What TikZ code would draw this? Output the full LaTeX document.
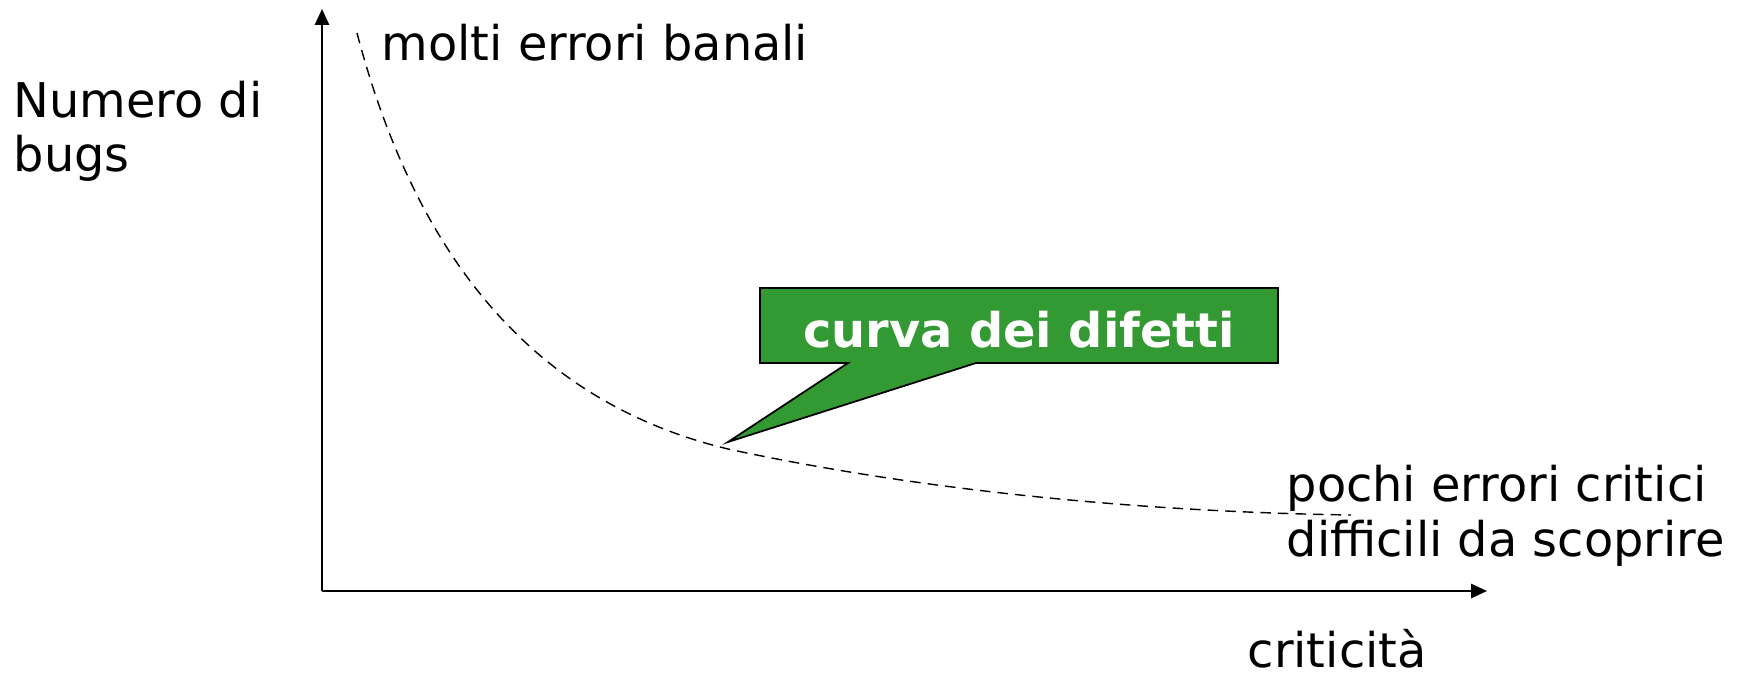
\documentclass[tikz,border=0pt]{standalone}
\usepackage{fontspec}
\setmainfont{DejaVu Sans}
\usetikzlibrary{arrows.meta}
\definecolor{calloutgreen}{HTML}{339933}

\begin{document}
\begin{tikzpicture}[x=0.01cm, y=-0.01cm,
    lbl/.style={inner sep=0pt, anchor=base west, align=left,
        font=\fontsize{13.6}{15.6}\selectfont},
    axis/.style={line width=0.6pt, -{Triangle[length=4.5pt,width=4pt]}},
    curve/.style={line width=0.4pt, dash pattern=on 3pt off 2pt}]
    \useasboundingbox (0,0) rectangle (1743,676);
    %axes
    \coordinate (O) at (322,591);
    \coordinate (ytop) at (322,9);
    \coordinate (xend) at (1487,591);
    \draw[axis] (O) -- (ytop);
    \draw[axis] (O) -- (xend);
    %labels
    \node[lbl] (ylab) at (13,172) {Numero di\\bugs};
    \node[lbl] (xlab) at (1247,667) {criticità};
    \node[lbl] (banali) at (381,61) {molti errori banali};
    \node[lbl] (critici) at (1286,556) {pochi errori critici\\difficili da scoprire};
    %curve
    \coordinate (cstart) at (357,33);
    \coordinate (cmid) at (728,449);
    \coordinate (cend) at (1351,515);
    \draw[curve] (cstart) .. controls (414,250) and (528,401) .. (cmid)
        .. controls (928,492) and (1150,512) .. (cend);
    %callout
    \draw[fill=calloutgreen, line width=0.5pt]
        (760,288) -- (1278,288) -- (1278,363) -- (976,363)
        -- (728,442) -- (848,363) -- (760,363) -- cycle;
    \node[inner sep=0pt, anchor=base, text=white,
        font=\fontsize{13.6}{15.6}\selectfont\bfseries] (difetti) at (1019,347) {curva dei difetti};
\end{tikzpicture}
\end{document}
